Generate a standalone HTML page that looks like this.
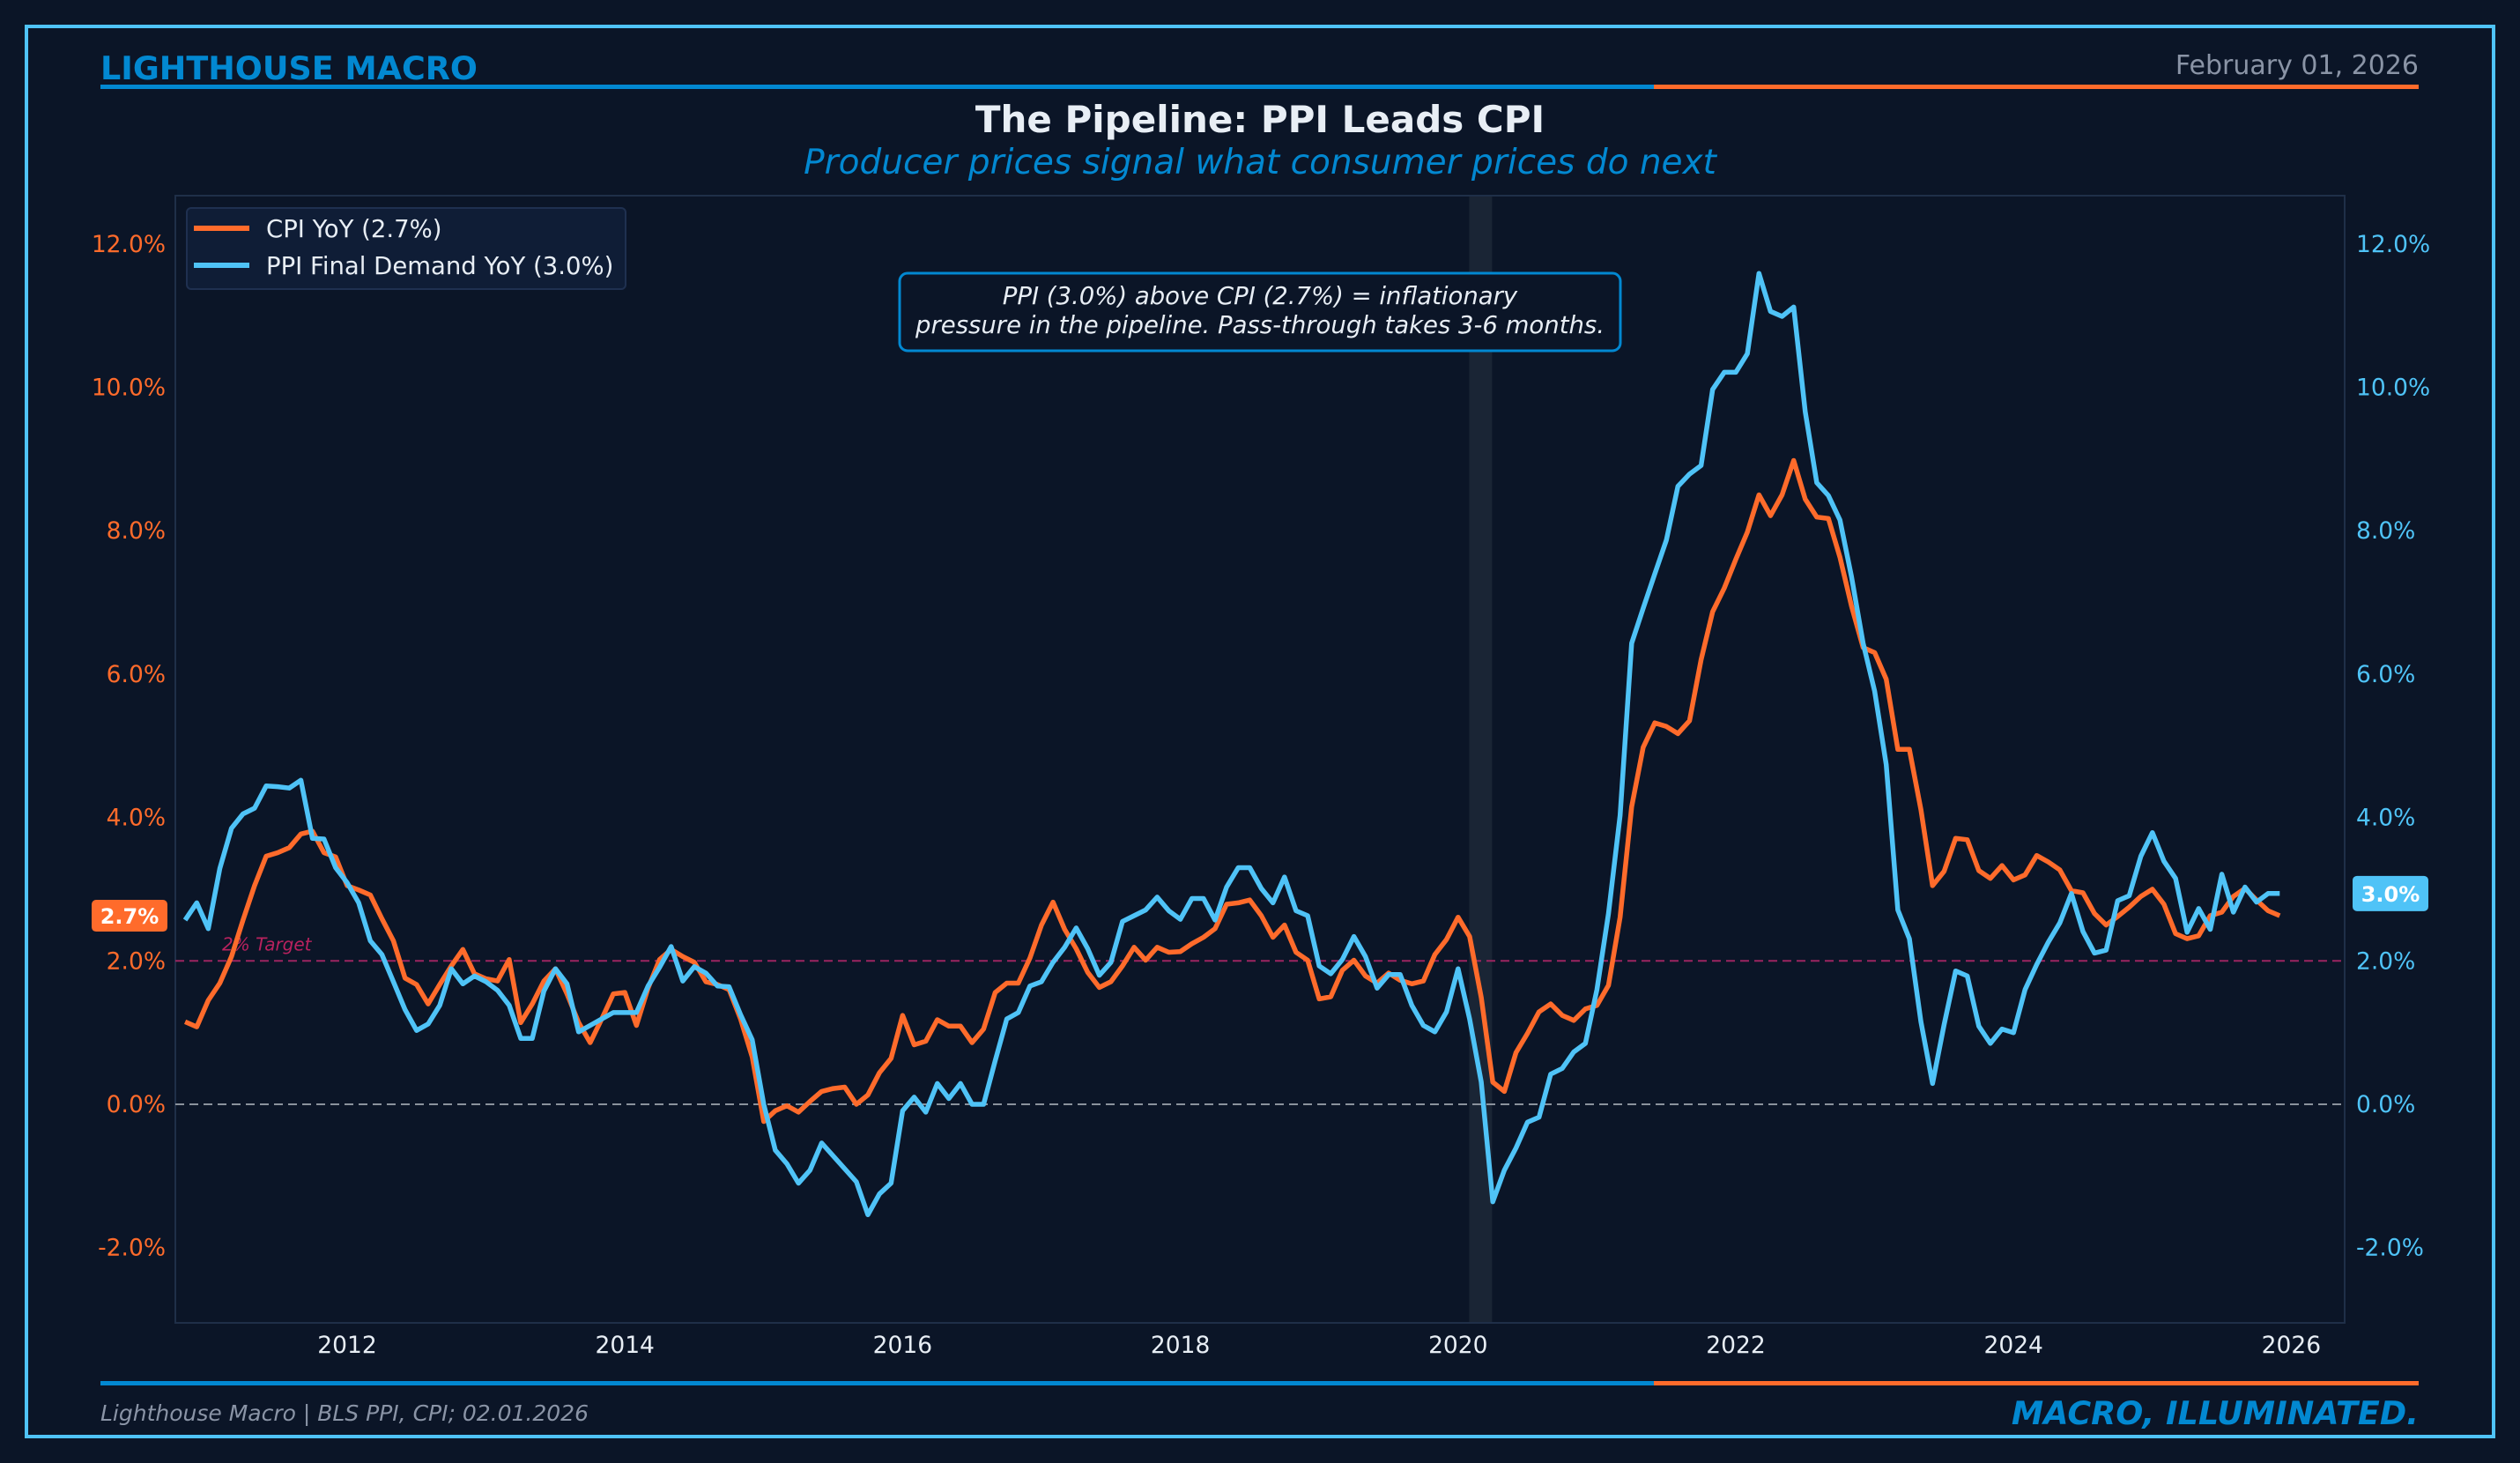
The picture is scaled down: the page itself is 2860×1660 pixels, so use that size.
<!DOCTYPE html>
<html><head><meta charset="utf-8"><style>
html,body{margin:0;padding:0;background:#0b1527;}
svg{display:block;font-family:"DejaVu Sans","Liberation Sans",sans-serif;}
</style></head><body>
<svg id="chart" width="2860" height="1660" viewBox="0 0 2860 1660" xmlns="http://www.w3.org/2000/svg">
<rect x="0" y="0" width="2860" height="1660" fill="#0b1527"/>
<rect x="30" y="30" width="2800" height="1600" fill="none" stroke="#4fc3f7" stroke-width="4"/>
<text x="114" y="90" font-size="36.5" font-weight="bold" fill="#0288d1">LIGHTHOUSE MACRO</text>
<text x="2745" y="84" font-size="30" fill="#8a94a6" text-anchor="end">February 01, 2026</text>
<rect x="114" y="96" width="1763" height="5" fill="#0288d1"/>
<rect x="1877" y="96" width="868" height="5" fill="#ff6b2b"/>
<text x="1430" y="150" font-size="42" font-weight="bold" fill="#e8eef5" text-anchor="middle">The Pipeline: PPI Leads CPI</text>
<text x="1430" y="197" font-size="39" font-style="italic" fill="#0288d1" text-anchor="middle">Producer prices signal what consumer prices do next</text>
<g id="plot"></g>
<rect x="114" y="1567" width="1763" height="5" fill="#0288d1"/>
<rect x="1877" y="1567" width="868" height="5" fill="#ff6b2b"/>
<text x="114" y="1612" font-size="25" font-style="italic" fill="#8a94a6">Lighthouse Macro | BLS PPI, CPI; 02.01.2026</text>
<text x="2745" y="1616" font-size="36.5" font-style="italic" font-weight="bold" fill="#0288d1" text-anchor="end">MACRO, ILLUMINATED.</text>
</svg>
<script>
const startYear = 2010 + 10/12; // Nov 2010, monthly
const cpiValues = [1.15,1.08,1.45,1.69,2.06,2.57,3.05,3.46,3.51,3.58,
3.77,3.81,3.51,3.45,3.05,2.99,2.92,2.59,2.28,1.76,
1.67,1.40,1.67,1.93,2.16,1.82,1.75,1.72,2.02,1.14,
1.40,1.72,1.89,1.54,1.14,0.86,1.19,1.54,1.56,1.10,
1.62,2.02,2.16,2.06,1.98,1.71,1.67,1.60,1.19,0.66,
-0.24,-0.09,-0.02,-0.11,0.04,0.18,0.22,0.24,0.00,0.13,
0.44,0.64,1.24,0.83,0.88,1.18,1.09,1.09,0.86,1.05,
1.56,1.69,1.69,2.04,2.50,2.82,2.44,2.17,1.84,1.63,
1.71,1.93,2.19,2.01,2.19,2.12,2.13,2.24,2.33,2.45,
2.79,2.81,2.85,2.63,2.33,2.50,2.12,2.01,1.47,1.50,
1.87,2.01,1.79,1.69,1.83,1.73,1.68,1.72,2.09,2.30,
2.61,2.34,1.49,0.31,0.18,0.72,0.99,1.29,1.40,1.24,
1.17,1.33,1.38,1.66,2.61,4.15,4.98,5.32,5.27,5.17,
5.35,6.20,6.87,7.20,7.60,7.98,8.50,8.21,8.50,8.98,
8.44,8.19,8.17,7.63,6.95,6.37,6.30,5.93,4.95,4.95,
4.11,3.05,3.25,3.71,3.69,3.26,3.15,3.33,3.13,3.20,
3.47,3.38,3.27,2.98,2.95,2.66,2.50,2.62,2.75,2.90,
3.00,2.79,2.38,2.31,2.35,2.63,2.68,2.90,3.01,2.85,
2.70,2.63];
const ppiValues = [2.57,2.81,2.45,3.29,3.85,4.05,4.13,4.44,4.43,4.41,
4.52,3.71,3.70,3.30,3.09,2.81,2.28,2.09,1.71,1.32,
1.03,1.12,1.38,1.89,1.68,1.79,1.71,1.59,1.38,0.92,
0.92,1.58,1.89,1.68,1.01,1.10,1.19,1.28,1.28,1.28,
1.65,1.91,2.20,1.72,1.92,1.83,1.65,1.64,1.25,0.90,
0.00,-0.64,-0.83,-1.10,-0.92,-0.54,-0.72,-0.90,-1.08,-1.54,
-1.25,-1.10,-0.09,0.10,-0.11,0.29,0.08,0.29,0.00,0.00,
0.61,1.19,1.28,1.65,1.71,1.98,2.19,2.46,2.17,1.80,
1.98,2.55,2.63,2.71,2.89,2.70,2.58,2.87,2.87,2.57,
3.03,3.30,3.30,3.01,2.81,3.17,2.70,2.63,1.93,1.82,
2.02,2.34,2.06,1.62,1.81,1.81,1.38,1.10,1.01,1.29,
1.89,1.19,0.31,-1.36,-0.92,-0.61,-0.25,-0.18,0.42,0.50,
0.73,0.85,1.60,2.66,4.03,6.43,6.92,7.40,7.87,8.62,
8.79,8.91,9.97,10.21,10.21,10.47,11.59,11.06,10.99,11.12,
9.66,8.67,8.49,8.15,7.36,6.43,5.76,4.74,2.71,2.31,
1.15,0.29,1.11,1.86,1.79,1.09,0.85,1.05,1.00,1.60,
1.95,2.26,2.53,2.94,2.41,2.11,2.15,2.84,2.91,3.46,
3.79,3.39,3.15,2.40,2.73,2.44,3.21,2.68,3.03,2.82,
2.94,2.94];
const yTicks = [-2,0,2,4,6,8,10,12];
const xTicks = [2012,2014,2016,2018,2020,2022,2024,2026];
const recession = [2020.08, 2020.245];
const cpiLatest = "2.7%";
const ppiLatest = "3.0%";

const NS = "http://www.w3.org/2000/svg";
const L = 199, R = 2661, T = 222, B = 1501;
const X = yr => 394 + (yr - 2012) * 157.6;
const Y = v => 1253 - v * 81.35;
const plot = document.getElementById('plot');
function mk(tag, attrs, parent) {
  const e = document.createElementNS(NS, tag);
  for (const k in attrs) e.setAttribute(k, attrs[k]);
  (parent || plot).appendChild(e);
  return e;
}
const bg = mk('rect', {x:L, y:T, width:R-L, height:B-T, fill:'#0b1527', stroke:'#1f2f48', 'stroke-width':2});


const rec = mk('rect', {x:X(recession[0]), y:T+1, width:X(recession[1])-X(recession[0]), height:B-T-2, fill:'#1a2535'});


const zl = mk('line', {x1:L, x2:R, y1:Y(0), y2:Y(0), stroke:'#8a929c', 'stroke-width':2, 'stroke-dasharray':'10 6'});


const tl = mk('line', {x1:L, x2:R, y1:Y(2), y2:Y(2), stroke:'#9c2460', 'stroke-width':2, 'stroke-dasharray':'10 6'});


const tt = mk('text', {x:252, y:Y(2)-12, 'font-size':20, 'font-style':'italic', fill:'#b8225e'});
tt.textContent = '2% Target';


yTicks.forEach(v => {
  const a = mk('text', {x:188, y:Y(v)+9, 'font-size':26.5, fill:'#ff6b2b', 'text-anchor':'end'});
  a.textContent = v.toFixed(1) + '%';
  
  
  const b = mk('text', {x:2674, y:Y(v)+9, 'font-size':26.5, fill:'#4fc3f7'});
  b.textContent = v.toFixed(1) + '%';
  
  
});
xTicks.forEach(yr => {
  const t = mk('text', {x:X(yr), y:1535, 'font-size':26.5, fill:'#e8eef5', 'text-anchor':'middle'});
  t.textContent = yr;
  
  
});
function series(vals, color, name) {
  const pts = vals.map((v,i) => X(startYear + i/12).toFixed(1) + ',' + Y(v).toFixed(1)).join(' ');
  const p = mk('polyline', {points:pts, fill:'none', stroke:color, 'stroke-width':5.5, 'stroke-linejoin':'round'});
  
  
}
series(cpiValues, '#ff6b2b', 'cpi-line');
series(ppiValues, '#4fc3f7', 'ppi-line');
// legend
const lg = mk('rect', {x:212, y:236, width:498, height:92, rx:5, fill:'#0f1d36', stroke:'#1f3050', 'stroke-width':2});


[['#ff6b2b','CPI YoY (' + cpiLatest + ')',259,'legend-entry-cpi'],['#4fc3f7','PPI Final Demand YoY (' + ppiLatest + ')',301,'legend-entry-ppi']].forEach(e => {
  const ln = mk('rect', {x:220, y:e[2]-3, width:63, height:6, fill:e[0]});
  
  
  const tx = mk('text', {x:302, y:e[2]+10, 'font-size':27.5, fill:'#e8eef5'});
  tx.textContent = e[1];
  
  
});
// annotation
const ab = mk('rect', {x:1021, y:310, width:818, height:88, rx:9, fill:'#0b1527', stroke:'#0288d1', 'stroke-width':3});


const a1 = mk('text', {x:1430, y:345, 'font-size':27.5, 'font-style':'italic', fill:'#e8eef5', 'text-anchor':'middle'});
a1.textContent = 'PPI (3.0%) above CPI (2.7%) = inflationary';


const a2 = mk('text', {x:1430, y:378, 'font-size':27.5, 'font-style':'italic', fill:'#e8eef5', 'text-anchor':'middle'});
a2.textContent = 'pressure in the pipeline. Pass-through takes 3-6 months.';


// value tags
const lastC = cpiValues[cpiValues.length-1], lastP = ppiValues[ppiValues.length-1];
const ct = mk('rect', {x:104, y:Y(lastC)-18, width:86, height:36, rx:5, fill:'#ff6b2b'});


const ctt = mk('text', {x:147, y:Y(lastC)+9, 'font-size':24, 'font-weight':'bold', fill:'#ffffff', 'text-anchor':'middle'});
ctt.textContent = cpiLatest;


const pt = mk('rect', {x:2670, y:Y(lastP)-20, width:86, height:40, rx:5, fill:'#4fc3f7'});


const ptt = mk('text', {x:2713, y:Y(lastP)+9, 'font-size':24, 'font-weight':'bold', fill:'#ffffff', 'text-anchor':'middle'});
ptt.textContent = ppiLatest;


</script>
</body></html>
